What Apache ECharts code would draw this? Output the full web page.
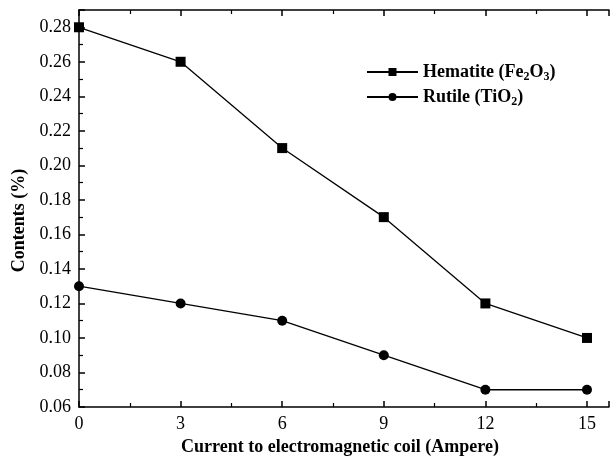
<!DOCTYPE html>
<html>
<head>
<meta charset="utf-8">
<script src="https://cdn.jsdelivr.net/npm/echarts@6/dist/echarts.min.js"></script>
<style>
  html, body { margin: 0; padding: 0; background: #fff; }
  #chart { width: 612px; height: 466px; }
</style>
</head>
<body>
<div id="chart"></div>
<script>
var current = [0, 3, 6, 9, 12, 15];
var hematite = [0.28, 0.26, 0.21, 0.17, 0.12, 0.10];
var rutile = [0.13, 0.12, 0.11, 0.09, 0.07, 0.07];

function pairs(xs, ys) {
    var out = [];
    for (var i = 0; i < xs.length; i++) out.push([xs[i], ys[i]]);
    return out;
}

var font = 'Liberation Serif';
var sub = { fontFamily: font, fontWeight: 'bold', fontSize: 12, padding: [10, 0, 0, 0], color: '#000' };
// the frame runs past the right edge of the picture, so the x range ends just after 15
var xMax = 15.65;

var chart = echarts.init(document.getElementById('chart'));
chart.setOption({
    animation: false,
    grid: { left: 79, top: 10, bottom: 59, right: 0, containLabel: false },
    legend: {
        orient: 'vertical',
        left: 361,
        top: 58,
        itemWidth: 51,
        itemHeight: 10,
        itemGap: 5,
        textStyle: {
            fontFamily: font, fontWeight: 'bold', fontSize: 18, color: '#000',
            rich: { sub: sub }
        },
        formatter: function (name) {
            if (name === 'hematite') return 'Hematite (Fe{sub|2}O{sub|3})';
            return 'Rutile (TiO{sub|2})';
        },
        data: ['hematite', 'rutile']
    },
    xAxis: [{
        type: 'value',
        min: 0, max: xMax, interval: 3,
        name: 'Current to electromagnetic coil (Ampere)',
        nameLocation: 'middle',
        nameGap: 27,
        nameTextStyle: { fontFamily: font, fontWeight: 'bold', fontSize: 18, color: '#000', padding: [0, 0, 0, -8] },
        axisLine: { onZero: false, lineStyle: { color: '#000', width: 1.5 } },
        axisTick: { inside: true, length: 6, lineStyle: { color: '#000', width: 1.5 } },
        minorTick: { show: true, splitNumber: 2, length: 4, lineStyle: { color: '#000', width: 1.2 } },
        axisLabel: {
            fontFamily: font, fontSize: 18, color: '#000', margin: 8,
            formatter: function (v) { return v <= 15 ? String(v) : ''; }
        },
        splitLine: { show: false }
    }, {
        type: 'value',
        position: 'top',
        min: 0, max: xMax, interval: 3,
        axisLine: { onZero: false, lineStyle: { color: '#000', width: 1.5 } },
        axisTick: { inside: true, length: 6, lineStyle: { color: '#000', width: 1.5 } },
        minorTick: { show: true, splitNumber: 2, length: 4, lineStyle: { color: '#000', width: 1.2 } },
        axisLabel: { show: false },
        splitLine: { show: false }
    }],
    yAxis: {
        type: 'value',
        min: 0.06, max: 0.29, interval: 0.02,
        name: 'Contents (%)',
        nameLocation: 'middle',
        nameGap: 50,
        nameTextStyle: { fontFamily: font, fontWeight: 'bold', fontSize: 18, color: '#000', padding: [0, 24, 0, 0] },
        axisLine: { onZero: false, lineStyle: { color: '#000', width: 1.5 } },
        axisTick: { inside: true, length: 6, lineStyle: { color: '#000', width: 1.5 } },
        minorTick: { show: true, splitNumber: 2, length: 4, lineStyle: { color: '#000', width: 1.2 } },
        axisLabel: {
            fontFamily: font, fontSize: 18, color: '#000', margin: 8,
            formatter: function (v) { return v > 0.285 ? '' : v.toFixed(2); }
        },
        splitLine: { show: false }
    },
    series: [{
        name: 'hematite',
        type: 'line',
        data: pairs(current, hematite),
        symbol: 'rect',
        symbolSize: 10,
        lineStyle: { color: '#000', width: 1.3 },
        itemStyle: { color: '#000' },
        clip: false
    }, {
        name: 'rutile',
        type: 'line',
        data: pairs(current, rutile),
        symbol: 'circle',
        symbolSize: 10,
        lineStyle: { color: '#000', width: 1.3 },
        itemStyle: { color: '#000' },
        clip: false
    }]
});
</script>
</body>
</html>
